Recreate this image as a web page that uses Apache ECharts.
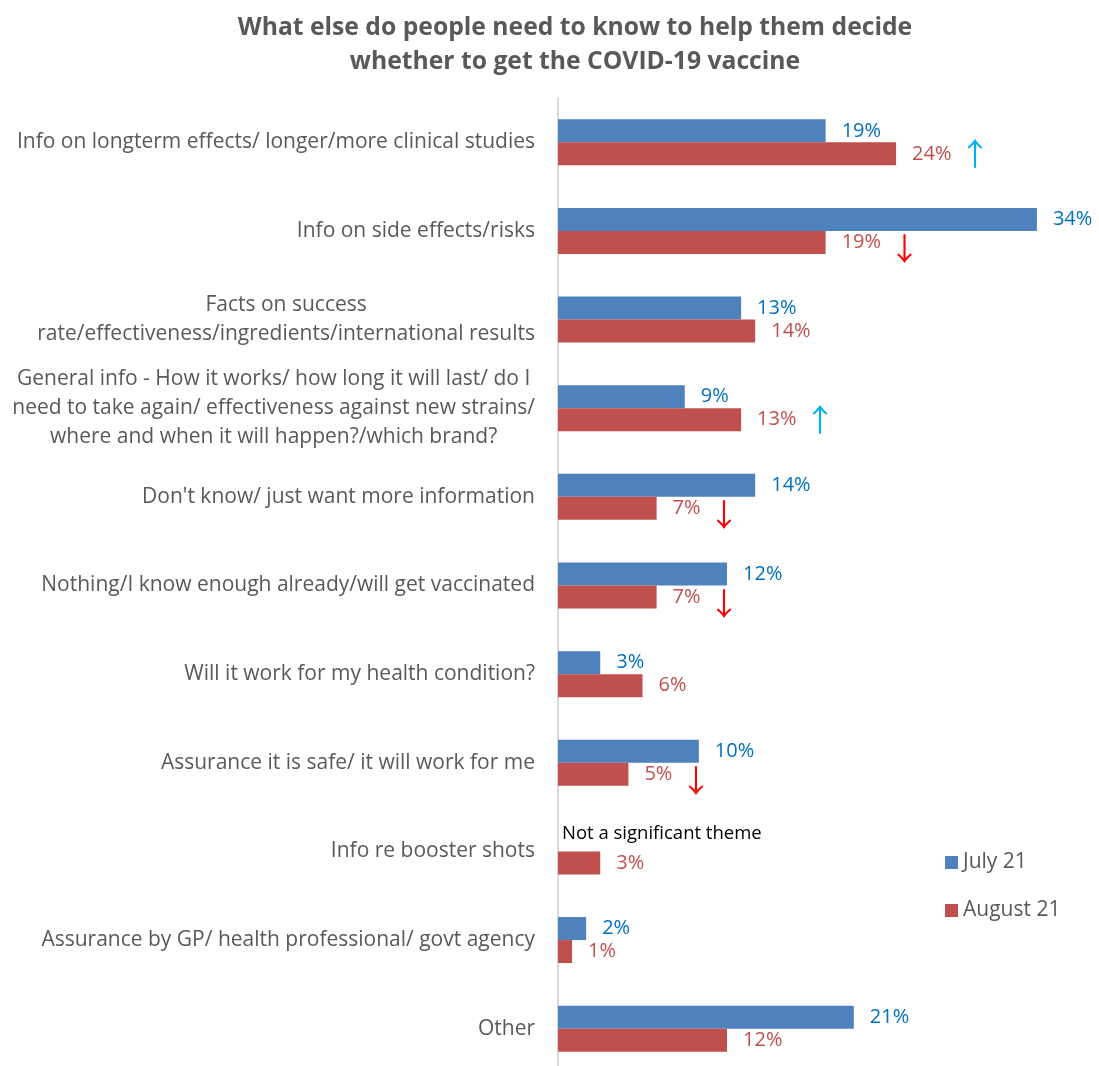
<!DOCTYPE html>
<html>
<head>
<meta charset="utf-8">
<script src="https://cdn.jsdelivr.net/npm/echarts@6/dist/echarts.min.js"></script>
<style>
  html, body { margin: 0; padding: 0; background: #fff; }
  #chart { width: 1099px; height: 1066px; }
</style>
</head>
<body>
<div id="chart"></div>
<script>
// Survey answers, top to bottom
const categories = [
  'Info on longterm effects/ longer/more clinical studies',
  'Info on side effects/risks',
  'Facts on success\nrate/effectiveness/ingredients/international results',
  'General info - How it works/ how long it will last/ do I\nneed to take again/ effectiveness against new strains/\nwhere and when it will happen?/which brand?',
  "Don't know/ just want more information",
  'Nothing/I know enough already/will get vaccinated',
  'Will it work for my health condition?',
  'Assurance it is safe/ it will work for me',
  'Info re booster shots',
  'Assurance by GP/ health professional/ govt agency',
  'Other'
];
const seriesNames = ['July 21', 'August 21'];
const july = [19, 34, 13, 9, 14, 12, 3, 10, null, 2, 21];
const august = [24, 19, 14, 13, 7, 7, 6, 5, 3, 1, 12];
// Significant change July -> August
const augustChange = ['up', 'down', '', 'up', 'down', 'down', '', 'down', '', '', ''];
const julyNotes = ['', '', '', '', '', '', '', '', 'Not a significant theme', '', ''];

const FONT = '"Open Sans", Lato, sans-serif';
const ARROW_FONT = '"Noto Sans CJK SC", "DejaVu Sans", sans-serif';
const GREY = '#595959';

const julyData = july.map((v, i) => {
  if (v === null && julyNotes[i]) {
    return {
      value: 0,
      label: {
        show: true,
        formatter: julyNotes[i],
        color: '#000',
        fontSize: 18.5,
        distance: 4,
        offset: [0, -6]
      }
    };
  }
  return v;
});

const augustData = august.map((v, i) => ({ value: v, change: augustChange[i] }));

const chart = echarts.init(document.getElementById('chart'));
chart.setOption({
  animation: false,
  title: {
    text: 'What else do people need to know to help them decide\nwhether to get the COVID-19 vaccine',
    left: 570,
    top: 6,
    textAlign: 'center',
    textStyle: {
      fontFamily: FONT,
      fontSize: 24.7,
      fontWeight: 'bold',
      color: GREY,
      lineHeight: 34
    }
  },
  legend: {
    orient: 'vertical',
    left: 940,
    top: 847,
    itemWidth: 13,
    itemHeight: 13,
    itemGap: 27,
    icon: 'rect',
    textStyle: { fontFamily: FONT, fontSize: 21, color: GREY },
    data: seriesNames
  },
  grid: {
    left: 558, top: 98, height: 975, right: 48,
    containLabel: false,
    outerBoundsMode: 'none'
  },
  xAxis: {
    type: 'value',
    min: 0,
    max: 35,
    show: false,
    splitLine: { show: false }
  },
  yAxis: {
    type: 'category',
    inverse: true,
    data: categories,
    axisLine: { show: true, lineStyle: { color: '#d9d9d9', width: 2 } },
    axisTick: { show: false },
    axisLabel: {
      margin: 23,
      fontFamily: FONT,
      fontSize: 21,
      color: GREY,
      lineHeight: 29,
      formatter: (val) => val.split('\n').map(l => '{c|' + l + '}').join('\n'),
      rich: {
        c: { align: 'center', fontFamily: FONT, fontSize: 21, color: GREY, lineHeight: 29 }
      }
    }
  },
  series: [
    {
      name: seriesNames[0],
      type: 'bar',
      data: julyData,
      barWidth: 23,
      barGap: '0%',
      itemStyle: { color: '#4F81BD' },
      label: {
        show: true,
        position: 'right',
        distance: 16,
        fontFamily: FONT,
        fontSize: 20,
        color: '#0070C0',
        formatter: (p) => p.value + '%'
      }
    },
    {
      name: seriesNames[1],
      type: 'bar',
      data: augustData,
      barWidth: 23,
      barGap: '0%',
      itemStyle: { color: '#C0504D' },
      label: {
        show: true,
        position: 'right',
        distance: 16,
        fontFamily: FONT,
        fontSize: 20,
        color: '#C0504D',
        formatter: (p) => {
          const c = p.data.change;
          let s = '{v|' + p.value + '%}';
          if (c === 'up') s += '{g|}{up|↑}';
          if (c === 'down') s += '{g|}{down|↓}';
          return s;
        },
        rich: {
          v: { fontFamily: FONT, fontSize: 20, color: '#C0504D' },
          g: { width: 8 },
          up: { fontFamily: ARROW_FONT, fontSize: 31, color: '#00B0F0', padding: [0, 0, 2, 0] },
          down: { fontFamily: ARROW_FONT, fontSize: 31, color: '#FF0000', padding: [12, 0, 0, 0] }
        }
      }
    }
  ]
});
</script>
</body>
</html>
